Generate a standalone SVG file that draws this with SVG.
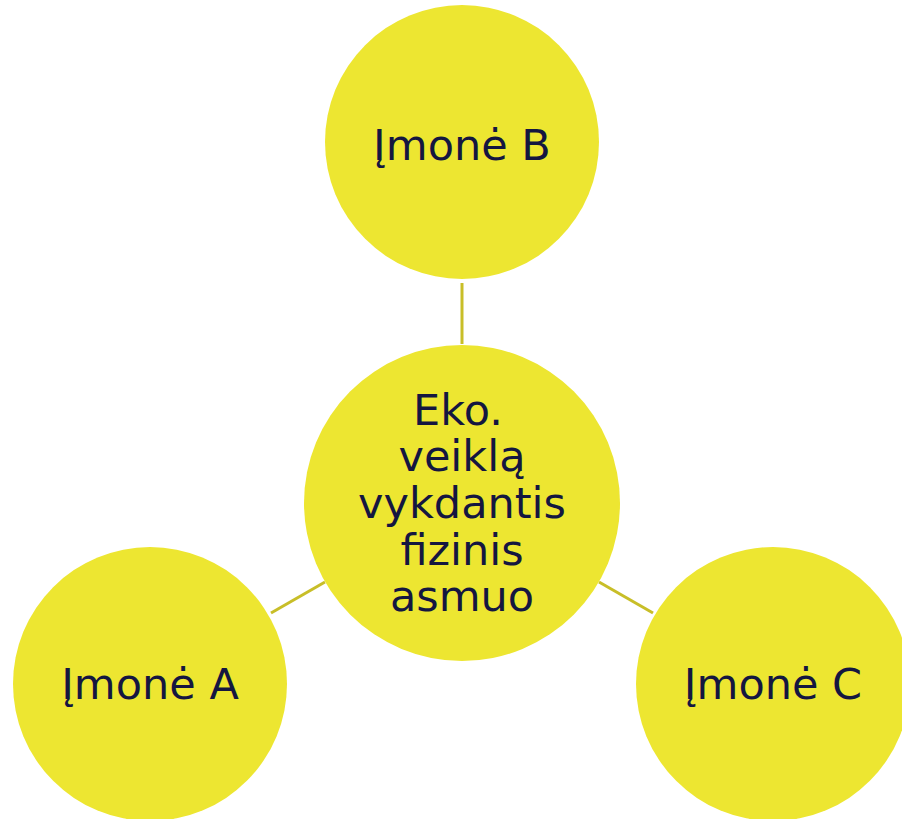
<svg xmlns="http://www.w3.org/2000/svg" width="902" height="819" viewBox="0 0 902 819">
<style>
.node{fill:#EDE631;}
.lbl{font-family:"DejaVu Sans",Verdana,sans-serif;font-size:43px;fill:#141640;text-anchor:middle;}
.conn{stroke:#C8BE28;stroke-width:3;fill:none;}
</style>
<rect width="902" height="819" fill="#ffffff"/>
<g id="connectors">
<line class="conn" x1="462" y1="283" x2="462" y2="344"/>
<line class="conn" x1="271" y1="613" x2="325" y2="582"/>
<line class="conn" x1="599" y1="582" x2="653" y2="613"/>
</g>
<g id="node-b">
<circle class="node" cx="462" cy="142" r="137"/>
<text class="lbl" x="462" y="160">Įmonė B</text>
</g>
<g id="node-center">
<circle class="node" cx="462" cy="503" r="158"/>
<text class="lbl" x="458" y="425">Eko.</text>
<text class="lbl" x="462" y="471">veiklą</text>
<text class="lbl" x="462" y="518">vykdantis</text>
<text class="lbl" x="462" y="565">fizinis</text>
<text class="lbl" x="462" y="611">asmuo</text>
</g>
<g id="node-a">
<circle class="node" cx="150" cy="684" r="137"/>
<text class="lbl" x="150" y="699">Įmonė A</text>
</g>
<g id="node-c">
<circle class="node" cx="773" cy="684" r="137"/>
<text class="lbl" x="773" y="699">Įmonė C</text>
</g>
</svg>
